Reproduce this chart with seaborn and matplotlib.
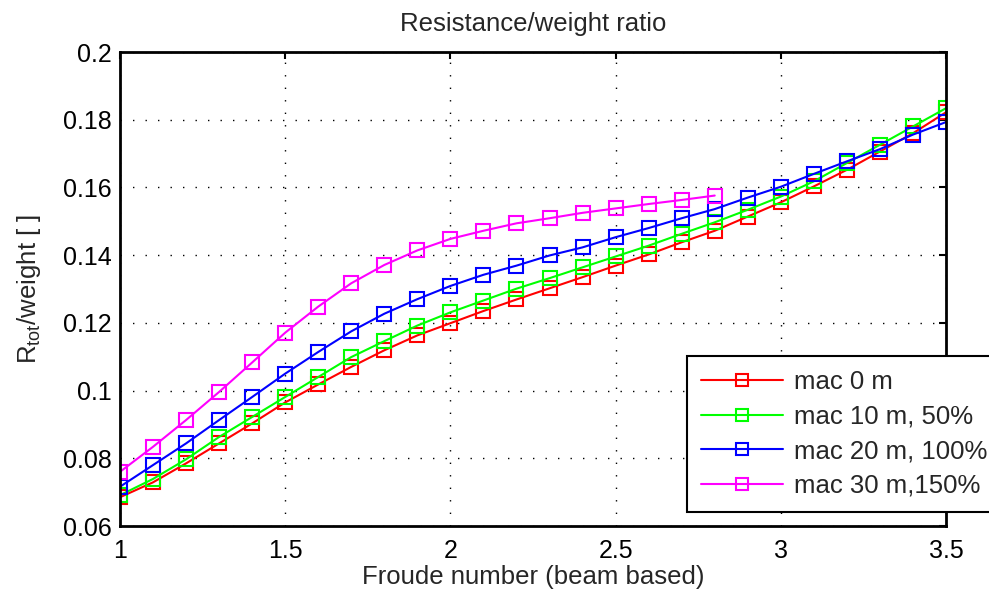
import numpy as np
import pandas as pd
import matplotlib
matplotlib.use("Agg")
import matplotlib.pyplot as plt
from matplotlib.ticker import FuncFormatter
import seaborn as sns

froude = [1.0, 1.1, 1.2, 1.3, 1.4, 1.5, 1.6, 1.7, 1.8, 1.9, 2.0, 2.1, 2.2,
          2.3, 2.4, 2.5, 2.6, 2.7, 2.8, 2.9, 3.0, 3.1, 3.2, 3.3, 3.4, 3.5]

mac0 = [0.0685, 0.0729, 0.0785, 0.0844, 0.0903, 0.0965, 0.1018, 0.1070, 0.1119,
        0.1163, 0.1199, 0.1235, 0.1269, 0.1302, 0.1335, 0.1369, 0.1402, 0.1438,
        0.1472, 0.1514, 0.1556, 0.1603, 0.1652, 0.1706, 0.1760, 0.1822]
mac10 = [0.0691, 0.0739, 0.0797, 0.0863, 0.0922, 0.0981, 0.1040, 0.1099, 0.1146,
         0.1192, 0.1231, 0.1266, 0.1301, 0.1332, 0.1364, 0.1396, 0.1428, 0.1463,
         0.1497, 0.1534, 0.1573, 0.1618, 0.1672, 0.1726, 0.1780, 0.1834]
mac20 = [0.0716, 0.0780, 0.0844, 0.0913, 0.0981, 0.1050, 0.1114, 0.1175, 0.1227,
         0.1270, 0.1309, 0.1342, 0.1369, 0.1399, 0.1423, 0.1453, 0.1480, 0.1509,
         0.1536, 0.1570, 0.1602, 0.1640, 0.1677, 0.1713, 0.1756, 0.1793]
mac30_x = froude[:19]
mac30 = [0.0760, 0.0834, 0.0913, 0.0996, 0.1083, 0.1171, 0.1248, 0.1317, 0.1371,
         0.1414, 0.1448, 0.1472, 0.1494, 0.1509, 0.1525, 0.1538, 0.1551, 0.1563,
         0.1576]

labels = ["mac 0 m", "mac 10 m, 50%", "mac 20 m, 100%", "mac 30 m,150%"]
colors = ["#ff0000", "#00ff00", "#0000ff", "#ff00ff"]

xticks = [1, 1.5, 2, 2.5, 3, 3.5]
yticks = [0.06, 0.08, 0.10, 0.12, 0.14, 0.16, 0.18, 0.20]

sns.set_theme(style="white")
plt.rcParams['font.family'] = ['Liberation Sans', 'DejaVu Sans']
plt.rcParams['mathtext.fontset'] = 'custom'
plt.rcParams['mathtext.rm'] = 'Liberation Sans'
plt.rcParams['mathtext.it'] = 'Liberation Sans'

FS = 18.5

fig = plt.figure(figsize=(9.89, 5.96), dpi=100)
ax = fig.add_axes([120 / 989, 1 - 526 / 596, (946 - 120) / 989, (526 - 52) / 596])

series = [(froude, mac0), (froude, mac10), (froude, mac20), (mac30_x, mac30)]
for (xs, ys), lab, col in zip(series, labels, colors):
    sns.lineplot(x=xs, y=ys, ax=ax, color=col, label=lab, marker="s",
                 markersize=10, markerfacecolor="none", markeredgecolor=col,
                 markeredgewidth=1.5, linewidth=1.5, legend=False)

ax.set_xlim(1, 3.5)
ax.set_ylim(0.06, 0.2)
ax.set_xticks(xticks)
ax.set_yticks(yticks)
fmt = FuncFormatter(lambda v, p: "%g" % round(v, 4))
ax.xaxis.set_major_formatter(fmt)
ax.yaxis.set_major_formatter(fmt)
ax.tick_params(direction="in", length=5, width=1.5, top=True, right=True,
               labelsize=18, colors="black")
ax.tick_params(axis="x", pad=9)
ax.tick_params(axis="y", pad=6)
for s in ax.spines.values():
    s.set_color("black")
    s.set_linewidth(2.0)
ax.grid(True, color="black", linestyle=(0, (1, 8)), linewidth=1.0)

ax.set_title("Resistance/weight ratio", fontsize=FS, pad=15)
ax.set_xlabel("Froude number (beam based)", fontsize=FS, labelpad=2)
ax.set_ylabel(r"R$_{\mathrm{tot}}$/weight [ ]", fontsize=FS, labelpad=14)

handles, labs = ax.get_legend_handles_labels()
leg = fig.legend(handles, labs, loc="upper left",
                 bbox_to_anchor=(687 / 989, 1 - 356 / 596),
                 fontsize=FS, frameon=True, fancybox=False, edgecolor="black",
                 handlelength=3.2, handletextpad=0.4, borderpad=0.55,
                 borderaxespad=0, labelspacing=0.41, markerscale=0.9)
leg.get_frame().set_linewidth(1.5)
leg.get_frame().set_alpha(1)

fig.savefig("out.png", dpi=100)
